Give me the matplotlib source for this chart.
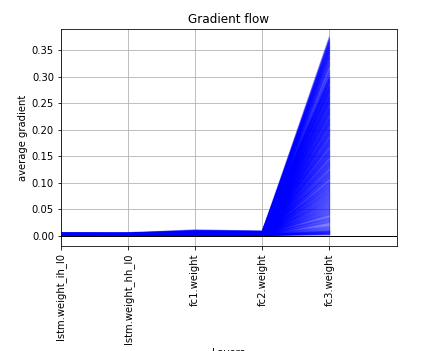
import matplotlib
matplotlib.use("Agg")
import matplotlib.pyplot as plt
import numpy as np

layers = ["lstm.weight_ih_l0", "lstm.weight_hh_l0", "fc1.weight", "fc2.weight", "fc3.weight"]

# average gradients per training step (run A), in thousandths
lstm_ih_a = [4, 2, 3, 5, 1, 3, 2, 4, 6, 2,
             3, 1, 4, 2, 5, 3, 2, 1, 4, 3,
             2, 5, 1, 3, 4, 2, 6, 3, 1, 2,
             4, 3, 2, 5, 1, 3, 4, 2, 3, 1,
             2, 4, 3, 1, 5, 2, 3, 4, 2, 1,
             3, 2, 4, 1, 2, 3, 5, 2, 1, 3,
             2, 4, 1, 3, 2, 1, 4, 2, 3, 1,
             2, 3, 1, 2, 4, 2, 1, 3, 2, 4,
             3, 1, 2, 4, 3, 2, 5, 1, 3, 2,
             4, 2, 3, 1, 2, 5, 3, 2, 4, 1,
             3, 2, 1, 4, 3, 2, 1, 3, 2, 4,
             1, 3, 2, 5, 2, 1, 3, 4, 2, 3,
             2, 1, 3, 2, 4, 3, 2, 1, 3, 2,
             4, 2, 3, 1, 2, 3, 1, 2, 4, 3,
             2, 3, 1, 2, 1, 3, 2, 1, 2, 3,
             1, 2, 1, 2, 3, 1, 2, 1, 1, 2,
             1, 2, 1, 1, 2, 1, 1, 2, 1, 1]

lstm_hh_a = [4, 3, 2, 5, 2, 3, 1, 4, 6, 3,
             2, 2, 4, 1, 5, 3, 3, 2, 4, 2,
             3, 5, 2, 3, 4, 1, 6, 2, 2, 3,
             4, 2, 3, 5, 2, 3, 4, 1, 3, 2,
             3, 4, 2, 2, 5, 1, 3, 4, 3, 2,
             2, 3, 4, 2, 1, 3, 5, 3, 2, 2,
             3, 4, 2, 3, 1, 2, 4, 3, 2, 2,
             1, 3, 2, 2, 4, 3, 2, 2, 3, 4,
             2, 2, 3, 4, 2, 3, 5, 2, 2, 3,
             4, 3, 2, 2, 3, 4, 3, 1, 4, 2,
             2, 3, 2, 4, 2, 3, 2, 2, 3, 4,
             2, 2, 3, 4, 3, 2, 2, 4, 3, 2,
             3, 2, 2, 3, 4, 2, 3, 2, 2, 3,
             4, 3, 2, 2, 3, 2, 2, 3, 4, 2,
             3, 2, 2, 3, 2, 2, 3, 2, 1, 2,
             2, 1, 2, 3, 2, 2, 1, 2, 2, 1,
             2, 1, 2, 2, 1, 2, 2, 1, 1, 2]

fc1_a = [8, 6, 5, 11, 4, 7, 3, 9, 10, 5,
         6, 3, 8, 4, 10, 6, 5, 3, 7, 4,
         5, 9, 3, 6, 8, 4, 11, 5, 3, 6,
         7, 4, 5, 9, 3, 6, 7, 2, 5, 3,
         4, 7, 5, 3, 8, 2, 5, 6, 4, 3,
         4, 5, 6, 3, 2, 4, 7, 4, 2, 3,
         4, 5, 3, 4, 2, 3, 5, 3, 2, 2,
         3, 4, 2, 3, 6, 4, 2, 4, 3, 5,
         4, 2, 3, 6, 4, 3, 7, 2, 4, 3,
         5, 3, 4, 2, 3, 6, 4, 2, 5, 2,
         4, 3, 2, 5, 4, 3, 2, 4, 3, 5,
         2, 4, 3, 6, 3, 2, 4, 5, 3, 4,
         3, 2, 4, 3, 5, 4, 3, 2, 4, 3,
         5, 3, 4, 2, 3, 4, 2, 3, 5, 4,
         3, 4, 2, 3, 2, 4, 3, 2, 3, 4,
         2, 3, 2, 3, 4, 2, 3, 2, 2, 3,
         2, 3, 2, 2, 3, 2, 2, 3, 2, 2]

fc2_a = [7, 5, 4, 9, 3, 6, 3, 8, 9, 4,
         5, 2, 7, 3, 8, 5, 4, 2, 6, 3,
         4, 8, 2, 5, 7, 3, 9, 4, 2, 5,
         6, 3, 4, 7, 2, 5, 6, 2, 4, 2,
         3, 6, 4, 2, 7, 2, 4, 5, 3, 2,
         3, 4, 5, 2, 2, 3, 6, 3, 2, 2,
         3, 4, 2, 3, 1, 2, 4, 2, 2, 1,
         2, 3, 2, 2, 5, 3, 2, 3, 2, 4,
         3, 2, 2, 5, 3, 2, 6, 2, 3, 2,
         4, 2, 3, 2, 2, 5, 3, 2, 4, 2,
         3, 2, 2, 4, 3, 2, 2, 3, 2, 4,
         2, 3, 2, 5, 2, 2, 3, 4, 2, 3,
         2, 2, 3, 2, 4, 3, 2, 2, 3, 2,
         4, 2, 3, 2, 2, 3, 2, 2, 4, 3,
         2, 3, 2, 2, 2, 3, 2, 1, 2, 3,
         1, 2, 1, 2, 3, 1, 2, 1, 1, 2,
         1, 2, 1, 1, 2, 1, 1, 2, 1, 1]

fc3_a = [375, 372, 369, 366, 361, 357, 352, 348, 343, 337,
         334, 331, 326, 322, 319, 313, 310, 306, 304, 302,
         299, 297, 296, 294, 291, 290, 288, 285, 284, 282,
         279, 278, 276, 273, 272, 270, 268, 265, 264, 262,
         259, 258, 256, 254, 251, 250, 248, 246, 243, 242,
         240, 237, 236, 234, 231, 230, 228, 226, 224, 221,
         220, 218, 215, 214, 212, 210, 207, 206, 204, 201,
         200, 198, 196, 193, 192, 190, 188, 185, 184, 182,
         179, 178, 176, 174, 171, 170, 168, 165, 164, 162,
         160, 157, 156, 154, 151, 150, 148, 146, 143, 142,
         140, 138, 135, 134, 132, 129, 128, 126, 124, 121,
         120, 118, 116, 113, 112, 110, 107, 106, 104, 102,
         99, 98, 96, 93, 92, 90, 88, 85, 84, 82,
         80, 77, 76, 74, 71, 70, 68, 66, 63, 62,
         60, 58, 55, 54, 52, 49, 48, 46, 44, 41,
         43, 38, 35, 32, 30, 28, 25, 22, 19, 16,
         13, 12, 11, 9, 8, 7, 6, 5, 4, 3]

# run B, in thousandths
lstm_ih_b = [3, 5, 2, 4, 1, 2, 4, 3, 5, 2,
             1, 3, 4, 2, 3, 5, 1, 2, 3, 4,
             2, 3, 1, 4, 2, 5, 3, 2, 1, 3,
             4, 2, 3, 1, 2, 4, 5, 3, 2, 1,
             3, 4, 2, 3, 1, 2, 4, 3, 5, 2,
             1, 3, 2, 4, 3, 1, 2, 3, 4, 2,
             3, 1, 2, 4, 2, 3, 1, 5, 2, 3,
             2, 4, 3, 1, 2, 3, 2, 4, 1, 2,
             3, 2, 4, 2, 1, 3, 2, 3, 4, 1,
             2, 3, 1, 2, 4, 2, 3, 1, 2, 3,
             4, 1, 2, 3, 2, 4, 1, 2, 3, 2,
             1, 2, 4, 3, 1, 2, 3, 2, 1, 4,
             2, 3, 1, 2, 3, 1, 2, 4, 2, 1,
             3, 2, 1, 3, 2, 4, 2, 1, 2, 3,
             1, 2, 3, 1, 2, 1, 3, 2, 1, 2,
             2, 1, 2, 1, 3, 2, 1, 1, 2, 1,
             1, 1, 2, 1, 1, 2, 1, 1, 1, 2]

lstm_hh_b = [3, 4, 3, 5, 2, 2, 4, 3, 5, 3,
             2, 3, 4, 2, 3, 4, 2, 2, 3, 4,
             3, 3, 2, 4, 2, 5, 3, 3, 2, 3,
             4, 3, 3, 2, 2, 4, 5, 3, 2, 2,
             3, 4, 3, 3, 2, 2, 4, 3, 4, 2,
             2, 3, 3, 4, 3, 2, 2, 3, 4, 3,
             3, 2, 2, 4, 3, 3, 2, 4, 2, 3,
             3, 4, 3, 2, 2, 3, 3, 4, 2, 2,
             3, 3, 4, 2, 2, 3, 3, 3, 4, 2,
             2, 3, 2, 2, 4, 3, 3, 2, 2, 3,
             4, 2, 2, 3, 3, 4, 2, 2, 3, 3,
             2, 2, 4, 3, 2, 2, 3, 3, 2, 4,
             3, 3, 2, 2, 3, 2, 2, 4, 3, 2,
             3, 3, 2, 3, 2, 4, 3, 2, 2, 3,
             2, 2, 3, 2, 2, 2, 3, 3, 2, 2,
             3, 2, 2, 2, 3, 2, 2, 1, 2, 2,
             2, 1, 2, 2, 1, 2, 2, 1, 2, 2]

fc1_b = [6, 9, 4, 8, 3, 5, 8, 6, 10, 4,
         3, 6, 8, 4, 6, 9, 3, 4, 6, 7,
         4, 6, 3, 7, 4, 9, 6, 4, 3, 5,
         7, 4, 6, 3, 4, 7, 8, 5, 4, 3,
         5, 7, 4, 5, 3, 4, 6, 5, 7, 3,
         3, 5, 4, 6, 5, 3, 4, 5, 6, 3,
         5, 3, 4, 6, 4, 5, 2, 7, 3, 4,
         4, 6, 5, 2, 3, 5, 4, 6, 2, 3,
         5, 4, 6, 3, 2, 5, 4, 5, 6, 2,
         3, 5, 3, 4, 6, 3, 5, 2, 3, 4,
         6, 2, 3, 5, 4, 6, 2, 3, 5, 3,
         2, 3, 6, 4, 2, 3, 5, 4, 2, 5,
         3, 4, 2, 3, 5, 2, 3, 5, 3, 2,
         4, 3, 2, 4, 3, 5, 3, 2, 3, 4,
         2, 3, 4, 2, 3, 2, 4, 3, 2, 3,
         3, 2, 3, 2, 4, 3, 2, 2, 3, 2,
         2, 2, 3, 2, 2, 3, 2, 2, 2, 3]

fc2_b = [5, 8, 3, 7, 2, 4, 7, 5, 8, 3,
         2, 5, 7, 3, 5, 8, 2, 3, 5, 6,
         3, 5, 2, 6, 3, 8, 5, 3, 2, 4,
         6, 3, 5, 2, 3, 6, 7, 4, 3, 2,
         4, 6, 3, 4, 2, 3, 5, 4, 6, 2,
         2, 4, 3, 5, 4, 2, 3, 4, 5, 2,
         4, 2, 3, 5, 3, 4, 2, 6, 2, 3,
         3, 5, 4, 2, 2, 4, 3, 5, 2, 2,
         4, 3, 5, 2, 2, 4, 3, 4, 5, 2,
         2, 4, 2, 3, 5, 2, 4, 2, 2, 3,
         5, 2, 2, 4, 3, 5, 2, 2, 4, 2,
         2, 2, 5, 3, 2, 2, 4, 3, 2, 4,
         2, 3, 2, 2, 4, 2, 2, 4, 2, 2,
         3, 2, 2, 3, 2, 4, 2, 2, 2, 3,
         2, 2, 3, 2, 2, 1, 3, 2, 1, 2,
         2, 1, 2, 1, 3, 2, 1, 1, 2, 1,
         1, 1, 2, 1, 1, 2, 1, 1, 1, 2]

fc3_b = [365, 355, 345, 339, 328, 316, 308, 301, 298, 295,
         293, 292, 289, 287, 362, 283, 281, 280, 277, 275,
         274, 271, 269, 267, 358, 263, 261, 260, 257, 255,
         253, 252, 249, 247, 353, 244, 241, 239, 238, 235,
         233, 232, 229, 227, 349, 223, 222, 219, 217, 216,
         213, 211, 209, 208, 344, 203, 202, 199, 197, 195,
         194, 191, 189, 187, 338, 183, 181, 180, 177, 175,
         173, 172, 169, 167, 333, 163, 161, 159, 158, 155,
         153, 152, 149, 147, 327, 144, 141, 139, 137, 136,
         133, 131, 130, 127, 321, 123, 122, 119, 117, 115,
         114, 111, 109, 108, 312, 103, 101, 100, 97, 95,
         94, 91, 89, 87, 86, 83, 81, 79, 78, 75,
         73, 72, 69, 67, 65, 64, 61, 59, 57, 56,
         53, 51, 50, 47, 45, 42, 40, 39, 370, 367,
         363, 359, 354, 350, 346, 341, 335, 324, 36, 34,
         31, 27, 24, 21, 18, 15, 14, 10, 8, 6,
         5, 4, 3, 2, 7, 9, 17, 26, 29, 33]

ave_grads = np.array([lstm_ih_a + lstm_ih_b,
                      lstm_hh_a + lstm_hh_b,
                      fc1_a + fc1_b,
                      fc2_a + fc2_b,
                      fc3_a + fc3_b]) / 1000.0

fig = plt.figure(figsize=(427 / 72, 351 / 72), dpi=72)
ax = fig.add_axes([61 / 427, 1 - 246.3 / 351, (396.5 - 61) / 427, (246.3 - 29.3) / 351])

ax.plot(ave_grads, alpha=0.3, color="b")
ax.hlines(0, 0, len(layers) + 1, linewidth=1, color="k")
ax.set_xticks(range(0, len(layers), 1))
ax.set_xticklabels(layers, rotation="vertical")
ax.set_xlim(0, len(layers))
ax.set_ylim(-0.0194, 0.3896)
ax.set_xlabel("Layers")
ax.set_ylabel("average gradient")
ax.set_title("Gradient flow")
ax.grid(True)

fig.savefig("out.png", dpi=72)
